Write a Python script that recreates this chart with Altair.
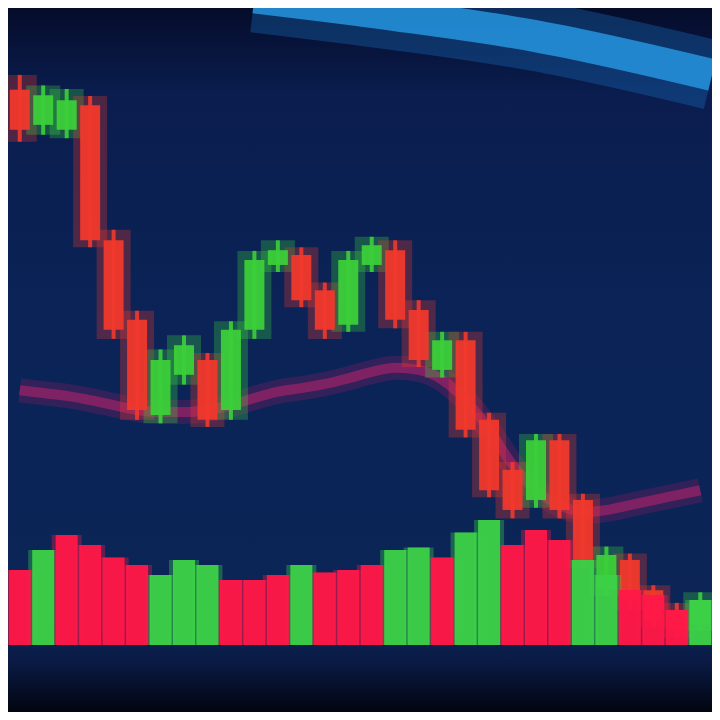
import altair as alt
import pandas as pd

# ---- data ----
idx = list(range(30))
opens = [88.4, 83.4, 82.7, 86.2, 67.0, 55.7, 42.2, 47.9, 50.0, 42.9, 54.3, 63.5, 64.9, 59.9, 55.0,
         63.5, 65.6, 57.1, 48.6, 52.8, 41.5, 34.4, 30.1, 38.6, 30.1, 17.3, 21.6, 17.3, 14.5, 12.4]
closes = [82.7, 87.6, 86.9, 67.0, 54.3, 42.9, 50.0, 52.1, 41.5, 54.3, 64.2, 65.6, 58.5, 54.3, 64.2,
          66.3, 55.7, 50.0, 52.8, 40.1, 31.5, 28.7, 38.6, 28.7, 21.6, 22.3, 15.9, 13.1, 11.6, 15.9]
highs = [90.5, 89.0, 88.5, 87.5, 68.5, 57.0, 51.5, 53.5, 51.0, 55.5, 65.5, 67.0, 66.0, 61.0, 65.5,
         67.5, 67.0, 58.5, 54.0, 54.0, 42.5, 35.5, 39.5, 39.5, 31.0, 23.5, 22.5, 18.0, 15.5, 17.0]
lows = [81.0, 82.0, 81.5, 66.0, 53.0, 41.5, 41.0, 46.5, 40.5, 41.5, 53.0, 62.5, 57.5, 53.0, 54.0,
        62.5, 54.5, 49.0, 47.5, 39.0, 30.5, 27.5, 29.0, 27.5, 20.5, 16.5, 14.5, 12.0, 10.5, 11.5]
moving_avg = [45.7, 45.3, 44.9, 44.3, 43.6, 42.9, 42.6, 42.6, 42.9, 43.6, 44.6, 45.5, 46.0, 46.6, 47.4,
              48.3, 48.9, 48.6, 47.2, 44.3, 40.1, 35.1, 31.5, 29.4, 28.4, 28.7, 29.4, 30.1, 30.8, 31.5]
volumes = [6.0, 7.6, 8.8, 8.0, 7.0, 6.4, 5.6, 6.8, 6.4, 5.2, 5.2, 5.6, 6.4, 5.8, 6.0,
           6.4, 7.6, 7.8, 7.0, 9.0, 10.0, 8.0, 9.2, 8.4, 6.8, 5.6, 4.4, 4.0, 2.8, 3.6]
volume_dir = ["down", "up", "down", "down", "down", "down", "up", "up", "up", "down",
              "down", "down", "up", "down", "down", "down", "up", "up", "down", "up",
              "up", "down", "down", "down", "up", "up", "down", "down", "down", "up"]
trend_x = [10.0, 16.0, 22.0, 29.5]
trend_y = [101.5, 99.0, 96.0, 90.5]

candles = pd.DataFrame({"i": idx, "open": opens, "close": closes, "high": highs, "low": lows})
ma = pd.DataFrame({"i": idx, "ma": moving_avg})
vol = pd.DataFrame({"i": idx, "vol": volumes, "dir": volume_dir})
trend = pd.DataFrame({"i": trend_x, "p": trend_y})

W, H = 704, 704
xs = alt.Scale(domain=[-0.5, 29.5], nice=False, zero=False, padding=0)
ys = alt.Scale(domain=[0, 100], nice=False, zero=False, padding=0)
X = alt.X("i:Q", scale=xs, axis=None)

bg = alt.Chart(pd.DataFrame({"k": [0]})).mark_rect(
    color=alt.Gradient(
        gradient="linear", x1=0, y1=0, x2=0, y2=1,
        stops=[alt.GradientStop(offset=0, color="#050c2a"),
               alt.GradientStop(offset=0.12, color="#0a1d4e"),
               alt.GradientStop(offset=0.5, color="#0b2458"),
               alt.GradientStop(offset=0.88, color="#0c2556"),
               alt.GradientStop(offset=0.93, color="#0a1a44"),
               alt.GradientStop(offset=1, color="#02050f")])
).encode(x=alt.value(0), x2=alt.value(W), y=alt.value(0), y2=alt.value(H))

dir_color = alt.Color("dir:N", scale=alt.Scale(domain=["up", "down"], range=["#3ccf3a", "#f0382c"]), legend=None)

base = alt.Chart(candles).transform_calculate(
    dir="datum.close >= datum.open ? 'up' : 'down'")

glow = base.mark_bar(size=34, opacity=0.3, clip=True).encode(
    x=X, y=alt.Y("high:Q", scale=ys, axis=None), y2="low:Q", color=dir_color)
wick = base.mark_rule(strokeWidth=4, opacity=0.9, clip=True).encode(
    x=X, y=alt.Y("high:Q", scale=ys, axis=None), y2="low:Q", color=dir_color)
body = base.mark_bar(size=20, opacity=0.95, clip=True).encode(
    x=X, y=alt.Y("open:Q", scale=ys, axis=None), y2="close:Q", color=dir_color)

ma_glow = alt.Chart(ma).mark_line(color="#7a1d5e", strokeWidth=24, opacity=0.35, interpolate="monotone",
                                  clip=True).encode(x=X, y=alt.Y("ma:Q", scale=ys, axis=None))
ma_line = alt.Chart(ma).mark_line(color="#8c2266", strokeWidth=10, opacity=0.85, interpolate="monotone",
                                  clip=True).encode(x=X, y=alt.Y("ma:Q", scale=ys, axis=None))

trend_glow = alt.Chart(trend).mark_line(color="#1a6fc0", strokeWidth=70, opacity=0.35, clip=True,
                                        interpolate="monotone").encode(
    x=X, y=alt.Y("p:Q", scale=ys, axis=None))
trend_line = alt.Chart(trend).mark_line(color="#238fd8", strokeWidth=32, opacity=0.9, clip=True,
                                        interpolate="monotone").encode(
    x=X, y=alt.Y("p:Q", scale=ys, axis=None))

vs = alt.Scale(domain=[-5.35, 50.9], nice=False, zero=False, padding=0)
vcolor = alt.Color("dir:N", scale=alt.Scale(domain=["up", "down"], range=["#3cd048", "#ff1848"]), legend=None)
vol_glow = alt.Chart(vol).mark_bar(size=30, opacity=0.35, clip=True).encode(
    x=X, y=alt.Y("vol:Q", scale=vs, axis=None), y2=alt.datum(0), color=vcolor)
vol_bar = alt.Chart(vol).mark_bar(size=22, opacity=0.95, clip=True).encode(
    x=X, y=alt.Y("vol:Q", scale=vs, axis=None), y2=alt.datum(0), color=vcolor)

price = alt.layer(trend_glow, trend_line, ma_glow, ma_line, glow, wick, body)
volume = alt.layer(vol_glow, vol_bar)

chart = alt.layer(bg, price, volume).resolve_scale(y="independent", color="independent").properties(
    width=W, height=H, padding=0, background="#0b1f4d",
    autosize=alt.AutoSizeParams(type="none")
).configure_view(stroke=None)

chart.save("out.html", embed_options={"renderer": "svg", "actions": False})
